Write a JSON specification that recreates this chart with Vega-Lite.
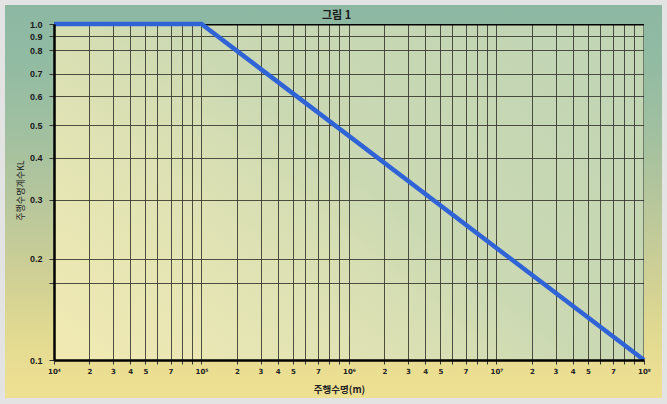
{
  "$schema": "https://vega.github.io/schema/vega-lite/v6.json",
  "width": 590,
  "height": 336,
  "autosize": {"type": "none"},
  "padding": {"left": 54, "top": 24, "right": 23, "bottom": 44},
  "background": "#e3e3e3",
  "config": {
    "view": {
      "stroke": null,
      "fill": {
        "gradient": "linear",
        "x1": 0, "y1": 1, "x2": 1, "y2": 0.3,
        "stops": [
          {"offset": 0, "color": "#f2eab3"},
          {"offset": 0.3, "color": "#e3e4b4"},
          {"offset": 0.45, "color": "#d9dfb3"},
          {"offset": 0.6, "color": "#cbd9b3"},
          {"offset": 1, "color": "#c2d5b4"}
        ]
      }
    }
  },
  "resolve": {"axis": {"x": "independent", "y": "independent"}},
  "layer": [
    {
      "data": {"values": [{}]},
      "mark": {
        "type": "rect",
        "fill": "transparent",
        "strokeWidth": 200,
        "stroke": {
          "gradient": "linear",
          "x1": 0, "y1": 0, "x2": 0, "y2": 1,
          "stops": [
            {"offset": 0.151, "color": "#8cb7a2"},
            {"offset": 0.254, "color": "#92bba3"},
            {"offset": 0.384, "color": "#a0c0a0"},
            {"offset": 0.515, "color": "#b6c69c"},
            {"offset": 0.646, "color": "#cdcf96"},
            {"offset": 0.757, "color": "#e0d991"},
            {"offset": 0.851, "color": "#ecdf92"},
            {"offset": 0.884, "color": "#eee093"}
          ]
        }
      },
      "encoding": {
        "x": {
          "datum": 2099,
          "type": "quantitative",
          "scale": {"type": "log", "domain": [10000, 100000000], "nice": false},
          "axis": {
            "orient": "bottom",
            "values": [10000, 17380, 25120, 32890, 41690, 50120, 61660, 73280, 86100, 100000, 173800, 251200, 328900, 416900, 501200, 616600, 732800, 861000, 1000000, 1738000, 2512000, 3289000, 4169000, 5012000, 6166000, 7328000, 8610000, 10000000, 17380000, 25120000, 32890000, 41690000, 50120000, 61660000, 73280000, 86100000, 100000000],
            "grid": false,
            "domain": true,
            "domainColor": "#000000",
            "domainWidth": 2.5,
            "ticks": true,
            "tickSize": 4,
            "tickColor": "#333333",
            "tickWidth": 1,
            "labelExpr": "abs(log(datum.value)/LN10 - round(log(datum.value)/LN10)) < 0.001 ? '10' + ['⁰','¹','²','³','⁴','⁵','⁶','⁷','⁸','⁹'][round(log(datum.value)/LN10)] : (datum.value / pow(10, floor(log(datum.value)/LN10 + 0.0001)) < 2 ? '2' : datum.value / pow(10, floor(log(datum.value)/LN10 + 0.0001)) < 3 ? '3' : datum.value / pow(10, floor(log(datum.value)/LN10 + 0.0001)) < 4 ? '4' : datum.value / pow(10, floor(log(datum.value)/LN10 + 0.0001)) < 4.5 ? '5' : datum.value / pow(10, floor(log(datum.value)/LN10 + 0.0001)) < 6 ? '' : datum.value / pow(10, floor(log(datum.value)/LN10 + 0.0001)) < 7 ? '7' : '')",
            "labelFont": "DejaVu Sans",
            "labelFontSize": 7,
            "labelFontWeight": "bold",
            "labelColor": "#222222",
            "labelPadding": 3,
            "labelFlush": false,
            "labelOverlap": false,
            "labelBound": false,
            "encode": {"labels": {"update": {"dy": {"signal": "abs(log(datum.value)/LN10 - round(log(datum.value)/LN10)) < 0.001 ? 5 : 0"}}}},
            "title": "주행수명(m)",
            "titleFont": "Noto Sans CJK KR",
            "titleFontSize": 9.5,
            "titleFontWeight": "bold",
            "titleColor": "#222222",
            "titleX": 285,
            "titleY": 29,
            "titleBaseline": "middle",
            "titleAlign": "center",
            "zindex": 1
          }
        },
        "x2": {"datum": 476400000},
        "y": {
          "datum": 1.9848,
          "type": "quantitative",
          "scale": {"type": "log", "domain": [0.1, 1], "nice": false},
          "axis": {
            "orient": "left",
            "values": [1, 0.919, 0.835, 0.711, 0.609, 0.5, 0.4, 0.3, 0.2, 0.169, 0.1],
            "grid": false,
            "domain": true,
            "domainColor": "#000000",
            "domainWidth": 2.5,
            "ticks": true,
            "tickSize": 5,
            "tickColor": "#333333",
            "tickWidth": 1,
            "labelExpr": "abs(datum.value - 0.169) < 0.001 ? '' : format(datum.value, '.1f')",
            "labelFont": "Liberation Sans",
            "labelFontSize": 9,
            "labelFontWeight": "bold",
            "labelColor": "#1a1a1a",
            "labelPadding": 7,
            "labelFlush": false,
            "labelOverlap": false,
            "labelBound": false,
            "title": "주행수명계수KL",
            "titleFont": "Noto Sans CJK KR",
            "titleFontSize": 9,
            "titleFontWeight": "normal",
            "titleColor": "#222222",
            "titleX": -34,
            "titleY": 166,
            "titleAngle": -90,
            "titleBaseline": "middle",
            "titleAlign": "center",
            "zindex": 1
          }
        },
        "y2": {"datum": 0.050392}
      }
    },
    {
      "data": {"values": [{}]},
      "mark": {"type": "rect", "fill": "transparent", "stroke": "#e3e3e3", "strokeWidth": 100},
      "encoding": {
        "x": {
          "datum": 2132.3,
          "type": "quantitative",
          "scale": {"type": "log", "domain": [10000, 100000000], "nice": false},
          "axis": {
            "orient": "top",
            "domain": false,
            "ticks": false,
            "labels": false,
            "grid": false,
            "title": "그림 1",
            "titleFont": "Noto Sans CJK KR",
            "titleFontSize": 11,
            "titleFontWeight": "bold",
            "titleColor": "#1a1a1a",
            "titleX": 282,
            "titleY": -9,
            "titleBaseline": "middle",
            "titleAlign": "center",
            "zindex": 1
          }
        },
        "x2": {"datum": 289070000},
        "y": {"datum": 1.6044, "type": "quantitative", "scale": {"type": "log", "domain": [0.1, 1], "nice": false}, "axis": null},
        "y2": {"datum": 0.0547}
      }
    },
    {
      "data": {
        "values": [
          {"L": 10000, "KL": 1.0},
          {"L": 100000, "KL": 1.0},
          {"L": 100000000, "KL": 0.1}
        ]
      },
      "mark": {"type": "line", "color": "#2f63d6", "strokeWidth": 4.5},
      "encoding": {
        "x": {
          "field": "L",
          "type": "quantitative",
          "scale": {"type": "log", "domain": [10000, 100000000], "nice": false},
          "axis": {
            "orient": "top",
            "values": [10000, 17380, 25120, 32890, 41690, 50120, 61660, 73280, 86100, 100000, 173800, 251200, 328900, 416900, 501200, 616600, 732800, 861000, 1000000, 1738000, 2512000, 3289000, 4169000, 5012000, 6166000, 7328000, 8610000, 10000000, 17380000, 25120000, 32890000, 41690000, 50120000, 61660000, 73280000, 86100000, 100000000],
            "grid": true,
            "gridColor": "#34342c",
            "gridWidth": 1,
            "gridOpacity": 0.85,
            "labels": false,
            "ticks": false,
            "domain": true,
            "domainColor": "#000000",
            "domainWidth": 1.8,
            "title": null,
            "zindex": 0
          }
        },
        "y": {
          "field": "KL",
          "type": "quantitative",
          "scale": {"type": "log", "domain": [0.1, 1], "nice": false},
          "axis": {
            "orient": "right",
            "values": [1, 0.919, 0.835, 0.711, 0.609, 0.5, 0.4, 0.3, 0.2, 0.169, 0.1],
            "grid": true,
            "gridColor": "#34342c",
            "gridWidth": 1,
            "gridOpacity": 0.85,
            "labels": false,
            "ticks": false,
            "domain": true,
            "domainColor": "#000000",
            "domainWidth": 1.8,
            "title": null,
            "zindex": 0
          }
        }
      }
    }
  ]
}
